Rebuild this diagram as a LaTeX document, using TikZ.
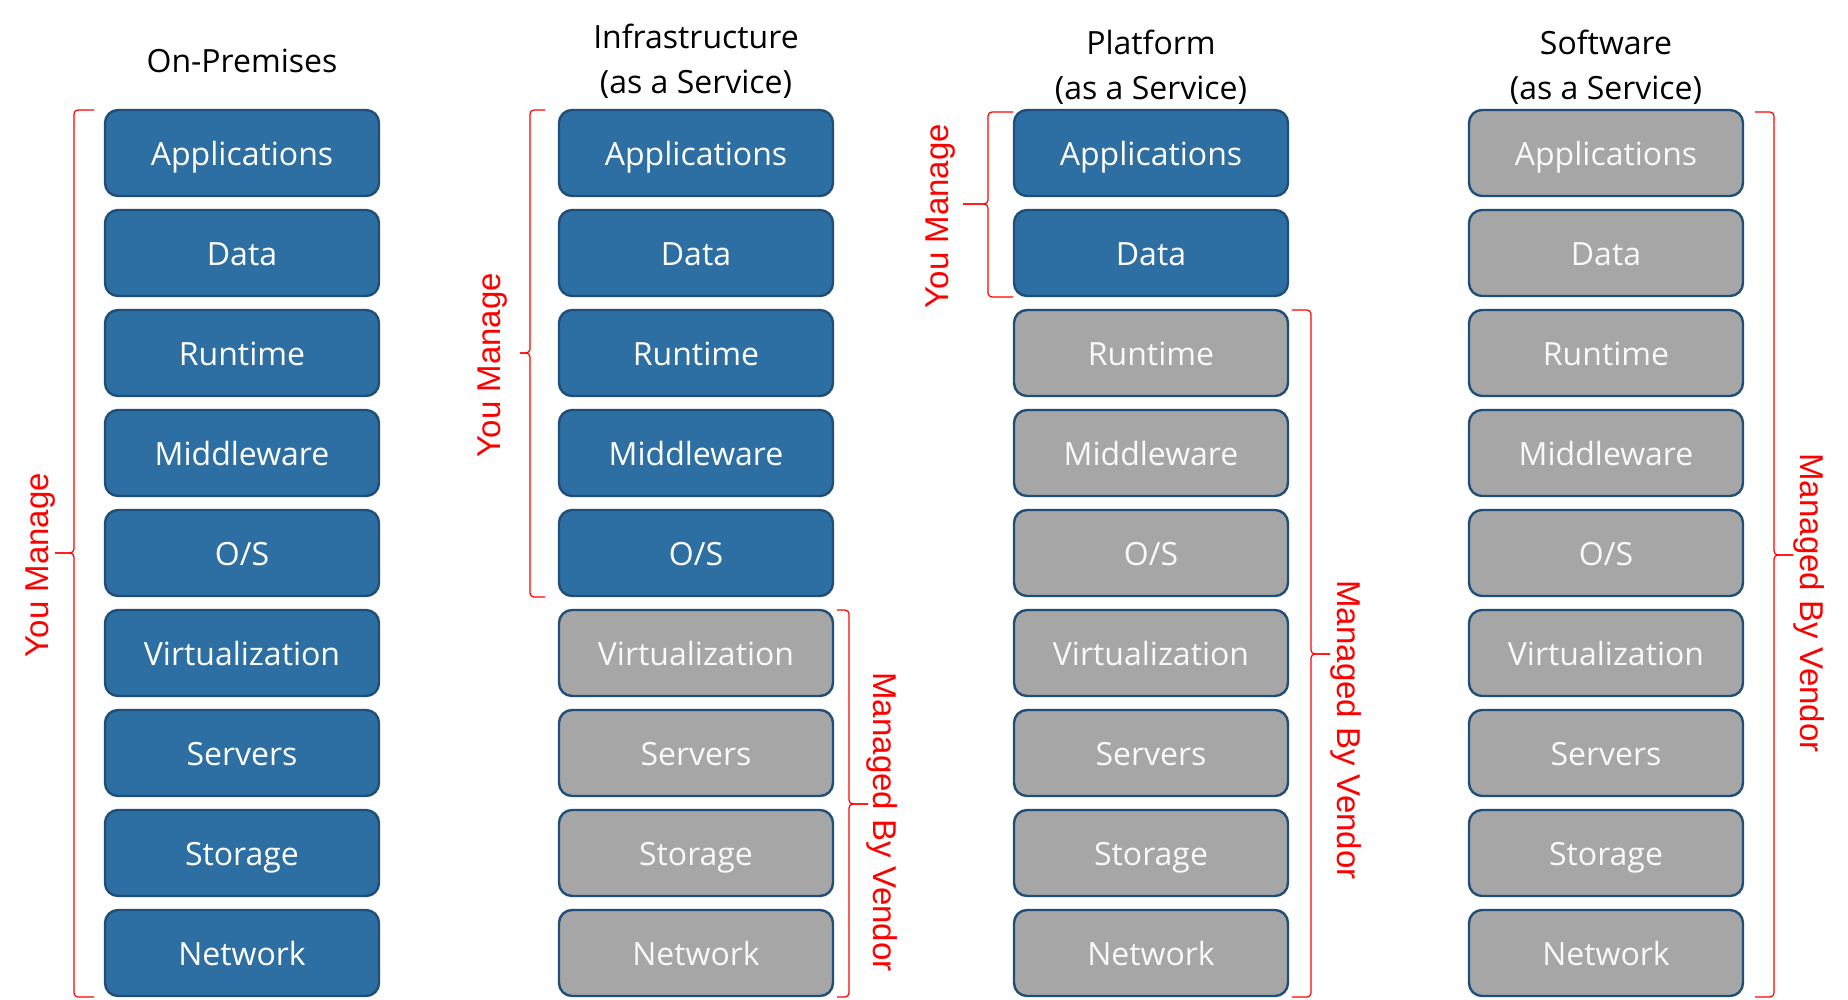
\documentclass[tikz,border=0pt]{standalone}
\usepackage{fontspec}
\setmainfont{Open Sans}
\newfontfamily\labelfont{Liberation Sans}
\usepackage{xcolor}
\usepackage{tikz}

\definecolor{boxblue}{HTML}{2E6FA3}
\definecolor{boxedge}{HTML}{1F4E79}
\definecolor{boxgray}{HTML}{A6A6A6}

\tikzset{
	layer/.style={draw=boxedge, line width=1.2pt, rounded corners=6.5pt, minimum width=137pt, minimum height=43pt, inner sep=0pt, text height=12.4pt, text depth=0pt, text=white, font=\fontsize{16}{19}\selectfont},
	bluelayer/.style={layer, fill=boxblue},
	graylayer/.style={layer, fill=boxgray, text=white!95!gray},
	heading/.style={align=center, anchor=base, font=\fontsize{16}{22.5}\selectfont},
	bracket/.style={draw=red, line width=0.6pt, rounded corners=2pt},
	bracketlabel/.style={text=red, anchor=base, inner sep=0pt, font=\labelfont\fontsize{16.5}{18}\selectfont}
}

\begin{document}
\begin{tikzpicture}[x=0.5pt, y=-0.5pt]
	\useasboundingbox (0,0) rectangle (1848,1000);
	% column headings
	\node[heading] (onprem) at (242,73) {On-Premises};
	\node[heading] (iaas) at (696,94) {Infrastructure\\(as a Service)};
	\node[heading] (paas) at (1151,100) {Platform\\(as a Service)};
	\node[heading] (saas) at (1606,100) {Software\\(as a Service)};
	% layer stacks, blue while you own them
	\foreach \col/\x/\own in {p/242/9, i/696/5, s/1151/2, a/1606/0} {
		\foreach \row/\name in {1/Applications, 2/Data, 3/Runtime, 4/Middleware, 5/{O/S}, 6/Virtualization, 7/Servers, 8/Storage, 9/Network} {
			\ifnum\row>\own \def\look{graylayer}\else \def\look{bluelayer}\fi
			\node[\look] (\col\row) at (\x, {53+100*\row}) {\name};
		}
	}
	% on-premises
	\draw[bracket] (94,110) -- (74,110) -- (74,553) -- (55,553);
	\draw[bracket] (55,553) -- (74,553) -- (74,997) -- (94,997);
	\node[bracketlabel, rotate=90] (youp) at (48,565) {You Manage};
	% infrastructure
	\draw[bracket] (545,110) -- (530,110) -- (530,353) -- (520,353);
	\draw[bracket] (520,353) -- (530,353) -- (530,597) -- (545,597);
	\node[bracketlabel, rotate=90] (youi) at (500,365) {You Manage};
	\draw[bracket] (837,610) -- (849,610) -- (849,804) -- (868,804);
	\draw[bracket] (868,804) -- (849,804) -- (849,997) -- (837,997);
	\node[bracketlabel, rotate=-90] (vendi) at (873,822) {Managed By Vendor};
	% platform
	\draw[bracket] (1013,112) -- (988,112) -- (988,204) -- (963,204);
	\draw[bracket] (963,204) -- (988,204) -- (988,297) -- (1013,297);
	\node[bracketlabel, rotate=90] (yous) at (948,216) {You Manage};
	\draw[bracket] (1292,310) -- (1311,310) -- (1311,654) -- (1330,654);
	\draw[bracket] (1330,654) -- (1311,654) -- (1311,997) -- (1292,997);
	\node[bracketlabel, rotate=-90] (vends) at (1337,730) {Managed By Vendor};
	% software
	\draw[bracket] (1755,112) -- (1774,112) -- (1774,555) -- (1793,555);
	\draw[bracket] (1793,555) -- (1774,555) -- (1774,997) -- (1755,997);
	\node[bracketlabel, rotate=-90] (venda) at (1800,603) {Managed By Vendor};
\end{tikzpicture}
\end{document}
